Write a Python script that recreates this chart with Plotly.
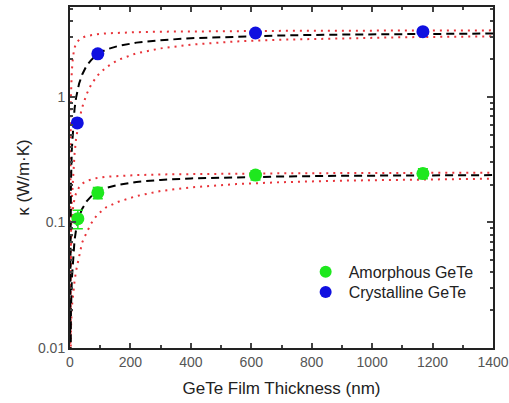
import plotly.graph_objects as go

# measured points
thick_a = [26, 92, 614, 1168]
kappa_a = [0.107, 0.172, 0.238, 0.245]
err_a = [0.018, 0.018, 0.02, 0.022]

thick_c = [24, 92, 614, 1168]
kappa_c = [0.62, 2.2, 3.22, 3.3]
err_c = [0.04, 0.12, 0.12, 0.14]

# fit curves and bounds
t_fit = [0.2, 1, 3, 6, 10, 15, 20, 30, 40, 55, 70, 90, 120, 160, 220, 300, 400, 550, 700, 900, 1100, 1400]

c_fit = [0.013, 0.07, 0.2, 0.38, 0.59, 0.8, 0.98, 1.27, 1.5, 1.77, 1.96, 2.18, 2.38, 2.54, 2.7, 2.82,
         2.93, 3.02, 3.08, 3.13, 3.16, 3.19]
c_up = [0.06, 0.35, 1.0, 1.6, 2.1, 2.45, 2.65, 2.85, 2.95, 3.05, 3.1, 3.15, 3.2, 3.24, 3.27, 3.3,
        3.32, 3.34, 3.35, 3.36, 3.37, 3.38]
c_lo = [0.005, 0.025, 0.075, 0.15, 0.24, 0.35, 0.46, 0.65, 0.82, 1.05, 1.25, 1.47, 1.72, 1.97, 2.22, 2.43,
        2.6, 2.76, 2.85, 2.93, 2.98, 3.03]

a_fit = [0.0013, 0.0066, 0.019, 0.035, 0.053, 0.072, 0.087, 0.111, 0.128, 0.147, 0.161, 0.174, 0.188, 0.199,
         0.21, 0.218, 0.224, 0.229, 0.232, 0.235, 0.236, 0.238]
a_up = [0.004, 0.02, 0.055, 0.095, 0.13, 0.155, 0.17, 0.19, 0.203, 0.214, 0.22, 0.226, 0.231, 0.235,
        0.238, 0.241, 0.243, 0.245, 0.246, 0.247, 0.248, 0.249]
a_lo = [0.0015, 0.006, 0.014, 0.021, 0.027, 0.034, 0.041, 0.055, 0.069, 0.083, 0.098, 0.115, 0.132, 0.146,
        0.162, 0.178, 0.19, 0.202, 0.209, 0.215, 0.219, 0.223]

y_ticks = [0.01, 0.1, 1]
y_ticktext = ["0.01", "0.1", "1"]
y_minor = [0.02, 0.03, 0.04, 0.05, 0.06, 0.07, 0.08, 0.09,
           0.2, 0.3, 0.4, 0.5, 0.6, 0.7, 0.8, 0.9, 2, 3, 4, 5]

fig = go.Figure()

red_dot = dict(color="#e8343a", width=2, dash="2px,5px")
for ys in [c_up, c_lo, a_up, a_lo]:
    fig.add_trace(go.Scatter(x=t_fit, y=ys, mode="lines", line=red_dot,
                             showlegend=False, hoverinfo="skip"))
for ys in [c_fit, a_fit]:
    fig.add_trace(go.Scatter(x=t_fit, y=ys, mode="lines",
                             line=dict(color="black", width=2, dash="8px,5px"),
                             showlegend=False, hoverinfo="skip"))

fig.add_trace(go.Scatter(x=thick_a, y=kappa_a, mode="markers", name="Amorphous GeTe",
                         marker=dict(color="#1ee81e", size=13), legend="legend",
                         error_y=dict(type="data", array=err_a, color="#1ee81e", thickness=1.5, width=5)))
fig.add_trace(go.Scatter(x=thick_c, y=kappa_c, mode="markers", name="Crystalline GeTe",
                         marker=dict(color="#1010e0", size=13), legend="legend2",
                         error_y=dict(type="data", array=err_c, color="#1010e0", thickness=1.5, width=5)))

fnt = "Liberation Sans, Arial, sans-serif"
leg = dict(xanchor="left", yanchor="middle", bgcolor="rgba(0,0,0,0)",
           font=dict(size=16, color="#222222"), itemsizing="constant", itemwidth=36)

fig.update_layout(
    width=509, height=403,
    margin=dict(l=70, r=16, t=7, b=55),
    plot_bgcolor="white", paper_bgcolor="white",
    font=dict(family=fnt, size=14, color="#555555"),
    legend=dict(leg, x=0.55, y=0.223),
    legend2=dict(leg, x=0.55, y=0.164),
)
fig.update_xaxes(
    range=[0, 1400], dtick=200, ticks="inside", ticklen=5, tickwidth=1.5,
    showline=True, linecolor="#222222", linewidth=2, mirror="ticks",
    showgrid=False, zeroline=False, automargin=False, ticklabeloverflow="allow",
    minor=dict(ticks="inside", ticklen=3, dtick=100, showgrid=False),
    title=dict(text="GeTe Film Thickness (nm)", font=dict(size=17, color="#222222"), standoff=13),
)
fig.update_yaxes(
    type="log", range=[-2, 0.715],
    tickvals=y_ticks, ticktext=y_ticktext,
    ticks="inside", ticklen=6, tickwidth=1.5,
    showline=True, linecolor="#222222", linewidth=2, mirror="ticks",
    showgrid=False, zeroline=False, automargin=False,
    minor=dict(ticks="inside", ticklen=3, tickvals=y_minor, showgrid=False),
    title=dict(text="κ (W/m·K)", font=dict(size=17, color="#222222"), standoff=4),
)

# drop the default page margin so the figure fills the window exactly
fig.write_html("out.html", config={"displayModeBar": False},
               post_script="document.body.style.margin='0';document.body.style.overflow='hidden';")
